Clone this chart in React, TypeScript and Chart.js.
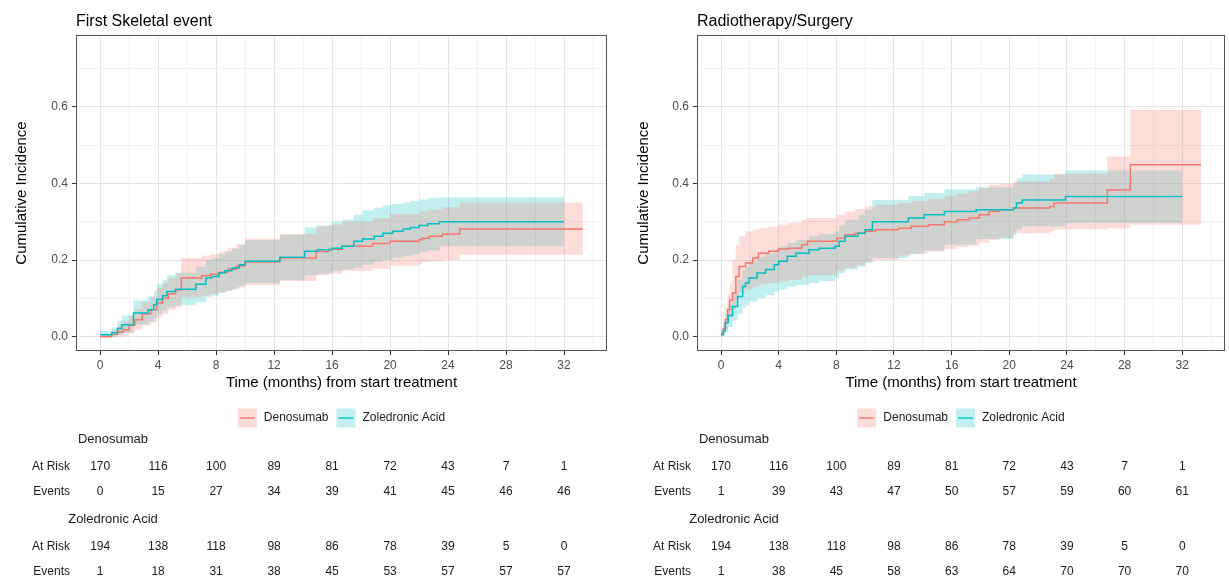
import React, { useEffect, useRef } from 'react';
import { Chart, registerables } from 'chart.js';

Chart.register(...registerables);

const FONT = "'Liberation Sans', Arial, Helvetica, sans-serif";
const RED = '#F8766D';
const TEAL = '#00BFC4';
const RED_FILL = 'rgba(248,118,109,0.25)';
const TEAL_FILL = 'rgba(0,191,196,0.24)';

// Axis ticks
const X_MAJOR = [0, 4, 8, 12, 16, 20, 24, 28, 32];
const X_MINOR = [2, 6, 10, 14, 18, 22, 26, 30, 34];
const Y_MAJOR = [0, 0.2, 0.4, 0.6];
const Y_MINOR = [0.1, 0.3, 0.5, 0.7];
const X_LIMITS = [-1.665, 34.965];
const Y_LIMITS = [-0.0375, 0.7875];

// Risk-table time points
const TABLE_TIMES = [0, 4, 8, 12, 16, 20, 24, 28, 32];

// ---------- First Skeletal event ----------
const SK_DENO_T = [0, 0.8, 1.2, 1.6, 2.0, 2.4, 2.9, 3.5, 3.9, 4.3, 4.7, 5.2, 5.6, 7.0, 7.6, 8.2, 8.8, 9.4, 10.0, 12.4, 14.9, 15.8, 16.7, 18.8, 20.0, 22.0, 22.2, 22.7, 23.6, 24.8, 33.3];
const SK_DENO_EST = [0, 0.006, 0.012, 0.018, 0.03, 0.044, 0.06, 0.07, 0.088, 0.1, 0.112, 0.122, 0.153, 0.159, 0.163, 0.168, 0.176, 0.185, 0.195, 0.205, 0.222, 0.228, 0.236, 0.243, 0.249, 0.253, 0.257, 0.262, 0.268, 0.281, 0.281];
const SK_DENO_LO = [0, 0, 0, 0.003, 0.01, 0.018, 0.03, 0.037, 0.05, 0.06, 0.07, 0.078, 0.102, 0.107, 0.111, 0.115, 0.122, 0.128, 0.135, 0.145, 0.16, 0.165, 0.172, 0.177, 0.185, 0.19, 0.195, 0.197, 0.2, 0.214, 0.214];
const SK_DENO_HI = [0.004, 0.018, 0.03, 0.04, 0.055, 0.072, 0.09, 0.105, 0.127, 0.14, 0.154, 0.166, 0.205, 0.211, 0.216, 0.222, 0.231, 0.241, 0.256, 0.268, 0.288, 0.293, 0.3, 0.31, 0.32, 0.325, 0.328, 0.332, 0.338, 0.35, 0.35];

const SK_ZOL_T = [0, 0.8, 1.2, 1.5, 2.3, 3.3, 3.7, 3.9, 4.3, 4.6, 5.2, 6.6, 7.3, 7.7, 8.2, 8.6, 9.1, 9.6, 10.0, 12.4, 14.1, 15.0, 16.0, 16.7, 17.5, 18.1, 18.9, 19.5, 20.2, 20.9, 21.4, 22.0, 22.6, 23.4, 32.0];
const SK_ZOL_EST = [0.005, 0.01, 0.021, 0.031, 0.062, 0.07, 0.083, 0.097, 0.107, 0.118, 0.124, 0.137, 0.153, 0.157, 0.166, 0.172, 0.179, 0.188, 0.197, 0.207, 0.223, 0.227, 0.231, 0.236, 0.249, 0.255, 0.262, 0.27, 0.275, 0.281, 0.285, 0.29, 0.295, 0.3, 0.3];
const SK_ZOL_LO = [0, 0, 0.004, 0.01, 0.032, 0.038, 0.048, 0.06, 0.068, 0.077, 0.082, 0.09, 0.103, 0.107, 0.114, 0.119, 0.125, 0.132, 0.14, 0.148, 0.16, 0.164, 0.172, 0.175, 0.18, 0.188, 0.195, 0.2, 0.205, 0.21, 0.214, 0.22, 0.225, 0.236, 0.236];
const SK_ZOL_HI = [0.015, 0.024, 0.04, 0.055, 0.095, 0.105, 0.12, 0.136, 0.148, 0.16, 0.167, 0.182, 0.2, 0.205, 0.215, 0.222, 0.23, 0.24, 0.252, 0.266, 0.285, 0.29, 0.3, 0.305, 0.318, 0.33, 0.337, 0.343, 0.346, 0.35, 0.354, 0.358, 0.362, 0.364, 0.364];

const SK_DENO_RISK = [170, 116, 100, 89, 81, 72, 43, 7, 1];
const SK_DENO_EVENTS = [0, 15, 27, 34, 39, 41, 45, 46, 46];
const SK_ZOL_RISK = [194, 138, 118, 98, 86, 78, 39, 5, 0];
const SK_ZOL_EVENTS = [1, 18, 31, 38, 45, 53, 57, 57, 57];

// ---------- Radiotherapy/Surgery ----------
const RT_DENO_T = [0, 0.15, 0.3, 0.46, 0.6, 0.8, 1.03, 1.26, 1.7, 2.2, 2.6, 3.3, 4.0, 4.7, 5.6, 6.0, 8.05, 8.6, 9.3, 10.0, 10.7, 12.3, 13.2, 14.4, 15.5, 16.4, 17.2, 17.9, 18.6, 19.3, 20.3, 22.8, 23.1, 26.8, 28.4, 33.3];
const RT_DENO_EST = [0.006, 0.02, 0.045, 0.07, 0.095, 0.114, 0.157, 0.183, 0.192, 0.205, 0.218, 0.223, 0.229, 0.231, 0.24, 0.249, 0.257, 0.266, 0.27, 0.275, 0.279, 0.283, 0.288, 0.292, 0.3, 0.305, 0.31, 0.318, 0.327, 0.331, 0.336, 0.34, 0.349, 0.383, 0.449, 0.449];
const RT_DENO_LO = [0, 0.005, 0.02, 0.035, 0.05, 0.07, 0.097, 0.115, 0.123, 0.13, 0.137, 0.14, 0.144, 0.148, 0.155, 0.16, 0.172, 0.179, 0.186, 0.196, 0.2, 0.212, 0.217, 0.223, 0.228, 0.234, 0.238, 0.245, 0.252, 0.258, 0.27, 0.275, 0.28, 0.283, 0.292, 0.292];
const RT_DENO_HI = [0.018, 0.045, 0.08, 0.11, 0.14, 0.2, 0.24, 0.262, 0.275, 0.28, 0.283, 0.287, 0.292, 0.298, 0.305, 0.31, 0.318, 0.327, 0.333, 0.34, 0.344, 0.349, 0.354, 0.36, 0.368, 0.374, 0.38, 0.388, 0.396, 0.4, 0.405, 0.41, 0.425, 0.47, 0.592, 0.592];

const RT_ZOL_T = [0, 0.15, 0.3, 0.5, 0.8, 1.15, 1.5, 1.7, 1.95, 2.5, 3.1, 3.7, 4.0, 4.6, 5.2, 6.1, 6.8, 7.9, 8.2, 8.6, 9.5, 10.0, 10.5, 13.0, 14.1, 15.5, 17.7, 20.3, 20.5, 20.9, 23.9, 32.0];
const RT_ZOL_EST = [0.005, 0.015, 0.036, 0.055, 0.079, 0.105, 0.131, 0.14, 0.153, 0.166, 0.175, 0.188, 0.197, 0.21, 0.218, 0.227, 0.231, 0.236, 0.249, 0.262, 0.27, 0.279, 0.3, 0.31, 0.318, 0.327, 0.331, 0.336, 0.349, 0.357, 0.366, 0.366];
const RT_ZOL_LO = [0, 0.002, 0.012, 0.025, 0.042, 0.06, 0.075, 0.082, 0.092, 0.1, 0.108, 0.117, 0.123, 0.13, 0.135, 0.14, 0.145, 0.153, 0.165, 0.175, 0.183, 0.192, 0.205, 0.215, 0.225, 0.24, 0.255, 0.265, 0.28, 0.288, 0.297, 0.297];
const RT_ZOL_HI = [0.012, 0.03, 0.06, 0.085, 0.115, 0.148, 0.172, 0.183, 0.197, 0.208, 0.217, 0.228, 0.236, 0.245, 0.252, 0.262, 0.268, 0.275, 0.29, 0.305, 0.318, 0.331, 0.357, 0.367, 0.375, 0.385, 0.39, 0.4, 0.414, 0.423, 0.434, 0.434];

const RT_DENO_RISK = [170, 116, 100, 89, 81, 72, 43, 7, 1];
const RT_DENO_EVENTS = [1, 39, 43, 47, 50, 57, 59, 60, 61];
const RT_ZOL_RISK = [194, 138, 118, 98, 86, 78, 39, 5, 0];
const RT_ZOL_EVENTS = [1, 38, 45, 58, 63, 64, 70, 70, 70];

const GROUP_NAMES = ['Denosumab', 'Zoledronic Acid'];

type Series = { t: number[]; est: number[]; lo: number[]; hi: number[] };
type Rows = { risk: number[]; events: number[] };
type Spec = {
  title: string;
  deno: Series;
  zol: Series;
  denoRows: Rows;
  zolRows: Rows;
  yAxisWidth: number;
  rightPad: number;
  yTitlePad: number;
};

const SKELETAL: Spec = {
  title: 'First Skeletal event',
  deno: { t: SK_DENO_T, est: SK_DENO_EST, lo: SK_DENO_LO, hi: SK_DENO_HI },
  zol: { t: SK_ZOL_T, est: SK_ZOL_EST, lo: SK_ZOL_LO, hi: SK_ZOL_HI },
  denoRows: { risk: SK_DENO_RISK, events: SK_DENO_EVENTS },
  zolRows: { risk: SK_ZOL_RISK, events: SK_ZOL_EVENTS },
  yAxisWidth: 76,
  rightPad: 8,
  yTitlePad: 13,
};

const RADIO: Spec = {
  title: 'Radiotherapy/Surgery',
  deno: { t: RT_DENO_T, est: RT_DENO_EST, lo: RT_DENO_LO, hi: RT_DENO_HI },
  zol: { t: RT_ZOL_T, est: RT_ZOL_EST, lo: RT_ZOL_LO, hi: RT_ZOL_HI },
  denoRows: { risk: RT_DENO_RISK, events: RT_DENO_EVENTS },
  zolRows: { risk: RT_ZOL_RISK, events: RT_ZOL_EVENTS },
  yAxisWidth: 82,
  rightPad: 4,
  yTitlePad: 20,
};

const pts = (t: number[], v: number[]) => t.map((x, i) => ({ x, y: v[i] }));

const bandDs = (data: any, fill: any, color: string, order: number) => ({
  data,
  fill,
  backgroundColor: color,
  borderColor: 'rgba(0,0,0,0)',
  borderWidth: 0,
  pointRadius: 0,
  pointHoverRadius: 0,
  stepped: true,
  order,
});

const lineDs = (label: string, data: any, color: string, order: number) => ({
  label,
  data,
  fill: false,
  borderColor: color,
  backgroundColor: color,
  borderWidth: 1.5,
  pointRadius: 0,
  pointHoverRadius: 0,
  stepped: true,
  order,
});

const extrasPlugin = (spec: Spec) => ({
  id: 'panelExtras',
  afterDraw(chart: any) {
    const { ctx, chartArea: a } = chart;
    const xs = chart.scales.x;
    ctx.save();

    // panel border
    ctx.strokeStyle = '#555555';
    ctx.lineWidth = 1;
    ctx.strokeRect(
      Math.round(a.left) + 0.5,
      Math.round(a.top) + 0.5,
      Math.round(a.right - a.left) - 1,
      Math.round(a.bottom - a.top) - 1
    );

    // panel title
    ctx.fillStyle = '#000000';
    ctx.font = `16px ${FONT}`;
    ctx.textAlign = 'left';
    ctx.textBaseline = 'alphabetic';
    ctx.fillText(spec.title, a.left, 25.5);

    // legend
    ctx.font = `12px ${FONT}`;
    const items = [
      { label: GROUP_NAMES[0], fill: RED_FILL, line: RED },
      { label: GROUP_NAMES[1], fill: TEAL_FILL, line: TEAL },
    ];
    const key = 19;
    const gap = 7;
    const spacing = 8;
    const widths = items.map((it) => ctx.measureText(it.label).width);
    const total = items.length * (key + gap) + widths[0] + widths[1] + spacing;
    let lx = (a.left + a.right) / 2 - total / 2;
    const ly = 418;
    items.forEach((it, i) => {
      ctx.fillStyle = it.fill;
      ctx.fillRect(lx, ly - key / 2, key, key);
      ctx.strokeStyle = it.line;
      ctx.lineWidth = 1.4;
      ctx.beginPath();
      ctx.moveTo(lx + 2, ly);
      ctx.lineTo(lx + key - 2, ly);
      ctx.stroke();
      ctx.fillStyle = '#1a1a1a';
      ctx.textAlign = 'left';
      ctx.textBaseline = 'middle';
      ctx.fillText(it.label, lx + key + gap, ly);
      lx += key + gap + widths[i] + spacing;
    });

    // risk table
    const headerX = a.left + 37;
    const labelX = a.left - 6;
    const drawHeader = (text: string, y: number) => {
      ctx.font = `13px ${FONT}`;
      ctx.fillStyle = '#1a1a1a';
      ctx.textAlign = 'center';
      ctx.textBaseline = 'middle';
      ctx.fillText(text, headerX, y);
    };
    const drawRow = (label: string, values: number[], y: number) => {
      ctx.font = `12px ${FONT}`;
      ctx.fillStyle = '#1a1a1a';
      ctx.textBaseline = 'middle';
      ctx.textAlign = 'right';
      ctx.fillText(label, labelX, y);
      ctx.textAlign = 'center';
      values.forEach((v, i) => {
        ctx.fillText(String(v), xs.getPixelForValue(TABLE_TIMES[i]), y);
      });
    };
    drawHeader(GROUP_NAMES[0], 439);
    drawRow('At Risk', spec.denoRows.risk, 467);
    drawRow('Events', spec.denoRows.events, 492);
    drawHeader(GROUP_NAMES[1], 519);
    drawRow('At Risk', spec.zolRows.risk, 547);
    drawRow('Events', spec.zolRows.events, 572);

    ctx.restore();
  },
});

const buildConfig = (spec: Spec): any => {
  const xTicks = [...X_MAJOR, ...X_MINOR].sort((p, q) => p - q);
  const yTicks = [...Y_MAJOR, ...Y_MINOR].sort((p, q) => p - q);
  const gridColor = (major: number[]) => (c: any) =>
    c.tick && major.includes(c.tick.value) ? '#e4e4e4' : '#f1f1f1';
  const tickColor = (major: number[]) => (c: any) =>
    c.tick && major.includes(c.tick.value) ? '#333333' : 'rgba(0,0,0,0)';
  return {
    type: 'line',
    data: {
      // Teal band is filled first, the red band is laid over it (neutral grey overlap)
      datasets: [
        bandDs(pts(spec.deno.t, spec.deno.hi), '+1', RED_FILL, 2),
        bandDs(pts(spec.deno.t, spec.deno.lo), false, RED_FILL, 3),
        bandDs(pts(spec.zol.t, spec.zol.hi), '+1', TEAL_FILL, 4),
        bandDs(pts(spec.zol.t, spec.zol.lo), false, TEAL_FILL, 5),
        lineDs(GROUP_NAMES[0], pts(spec.deno.t, spec.deno.est), RED, 1),
        lineDs(GROUP_NAMES[1], pts(spec.zol.t, spec.zol.est), TEAL, 0),
      ],
    },
    options: {
      responsive: false,
      animation: false,
      events: [],
      layout: { padding: { top: 35, left: 0, right: spec.rightPad, bottom: 192 } },
      plugins: {
        legend: { display: false },
        tooltip: { enabled: false },
        filler: { drawTime: 'beforeDatasetsDraw', propagate: false },
      },
      scales: {
        x: {
          type: 'linear',
          min: X_LIMITS[0],
          max: X_LIMITS[1],
          afterBuildTicks: (axis: any) => {
            axis.ticks = xTicks.map((v) => ({ value: v }));
          },
          afterFit: (axis: any) => {
            axis.height = 41;
          },
          ticks: {
            autoSkip: false,
            maxRotation: 0,
            minRotation: 0,
            padding: 3,
            color: '#4d4d4d',
            font: { family: FONT, size: 12 },
            callback: (v: number) => (X_MAJOR.includes(v) ? String(v) : ''),
          },
          grid: {
            color: gridColor(X_MAJOR),
            tickColor: tickColor(X_MAJOR),
            lineWidth: 1,
            tickLength: 4,
            tickWidth: 1,
          },
          border: { display: false },
          title: {
            display: true,
            text: 'Time (months) from start treatment',
            color: '#000000',
            font: { family: FONT, size: 15 },
            padding: { top: 0, bottom: 0 },
          },
        },
        y: {
          type: 'linear',
          min: Y_LIMITS[0],
          max: Y_LIMITS[1],
          afterBuildTicks: (axis: any) => {
            axis.ticks = yTicks.map((v) => ({ value: v }));
          },
          afterFit: (axis: any) => {
            axis.width = spec.yAxisWidth;
          },
          ticks: {
            autoSkip: false,
            padding: 4,
            color: '#4d4d4d',
            font: { family: FONT, size: 12 },
            callback: (v: number) => (Y_MAJOR.includes(v) ? v.toFixed(1) : ''),
          },
          grid: {
            color: gridColor(Y_MAJOR),
            tickColor: tickColor(Y_MAJOR),
            lineWidth: 1,
            tickLength: 4,
            tickWidth: 1,
          },
          border: { display: false },
          title: {
            display: true,
            text: 'Cumulative Incidence',
            color: '#000000',
            font: { family: FONT, size: 15 },
            padding: { top: spec.yTitlePad, bottom: 0 },
          },
        },
      },
    },
    plugins: [extrasPlugin(spec)],
  };
};

function Panel({ spec, left, width }: { spec: Spec; left: number; width: number }) {
  const ref = useRef<HTMLCanvasElement>(null);
  useEffect(() => {
    if (!ref.current) return;
    const chart = new Chart(ref.current, buildConfig(spec));
    return () => chart.destroy();
  }, [spec]);
  return (
    <canvas
      ref={ref}
      width={width}
      height={584}
      style={{ position: 'absolute', left, top: 0, width, height: 584 }}
    />
  );
}

export default function App() {
  return (
    <div
      style={{
        position: 'fixed',
        left: 0,
        top: 0,
        width: 1229,
        height: 584,
        background: '#ffffff',
        overflow: 'hidden',
      }}
    >
      <Panel spec={SKELETAL} left={0} width={615} />
      <Panel spec={RADIO} left={615} width={614} />
    </div>
  );
}
